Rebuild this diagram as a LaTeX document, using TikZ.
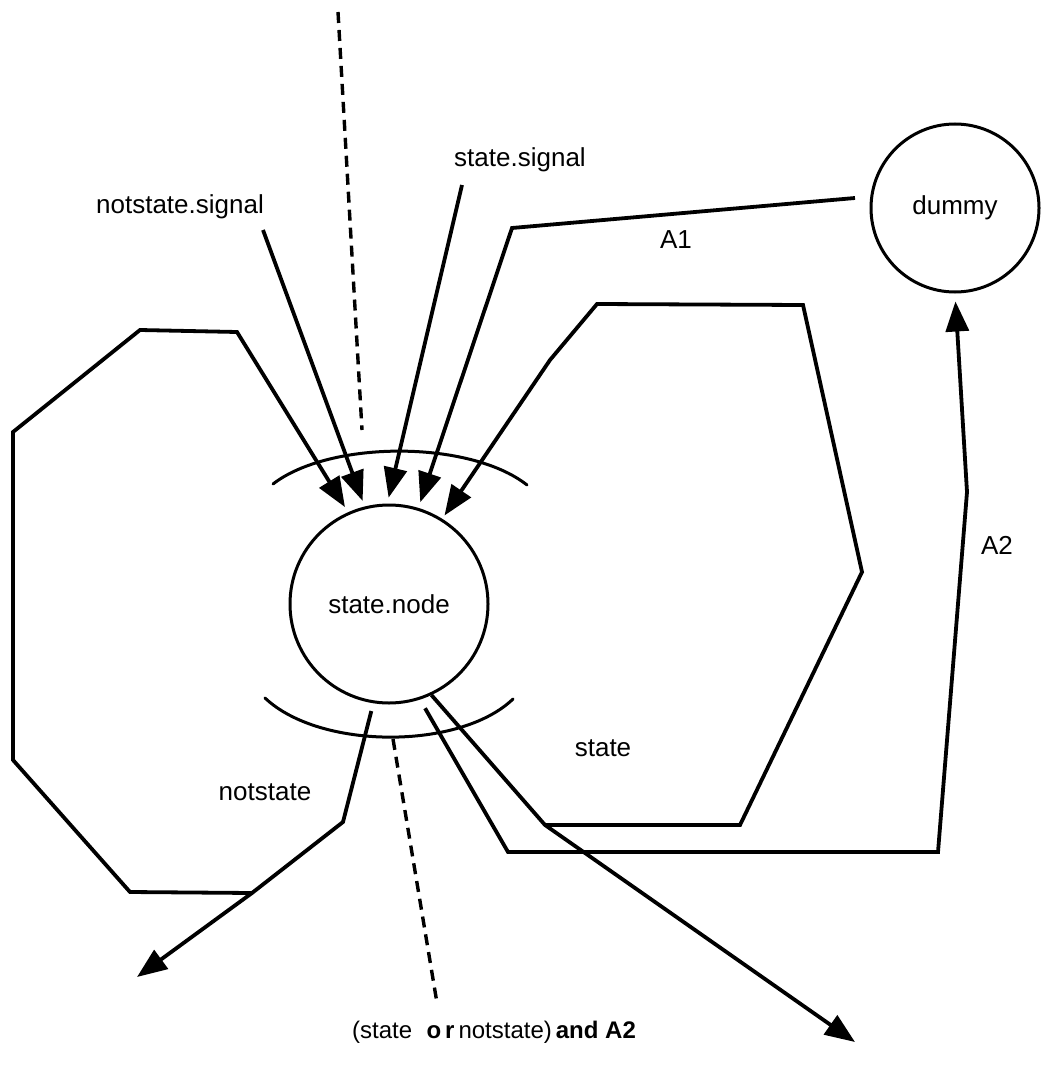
\documentclass[tikz,border=0pt]{standalone}
\usepackage{fontspec}
\setmainfont{Liberation Sans}
\usetikzlibrary{arrows.meta}
\begin{document}
\begin{tikzpicture}[x=1pt,y=-1pt,line width=3.8pt,line join=miter,
  arr/.style={-{Triangle[length=30pt,width=23pt]}},
  lbl/.style={font=\fontsize{26}{30}\selectfont,inner sep=0pt},
  botlbl/.style={font=\fontsize{24}{28}\selectfont,inner sep=0pt},
  circ/.style={circle,draw,line width=3pt,inner sep=0pt,font=\fontsize{26}{30}\selectfont},
  arcline/.style={line width=3pt,line cap=round},
  dashline/.style={line width=3.4pt,dash pattern=on 11pt off 7pt}]
\useasboundingbox (0,0) rectangle (1041,1075);
% nodes
\node[circ,minimum size=198pt] (sn) at (389,604) {state.node};
\node[circ,minimum size=168pt] (dm) at (955,208) {dummy};
\node[lbl] (nss) at (180,207) {notstate.signal};
\node[lbl] (ss) at (520,160) {state.signal};
\node[lbl] (la1) at (676,240) {A1};
\node[lbl] (la2) at (997,545) {A2};
\node[lbl] (lst) at (603,748) {state};
\node[lbl] (lns) at (265,792) {notstate};
\node[botlbl] (lbot) at (494,1032) {(state\hspace{0.6em}\textbf{o\,r}\,notstate)\,\textbf{and A2}};
% coordinates
\coordinate (Lb2) at (252,893);
\coordinate (Lb1) at (130,892);
\coordinate (Ll2) at (13,760);
\coordinate (Ll1) at (13,432);
\coordinate (Lt1) at (140,330);
\coordinate (Lt2) at (237,332);
\coordinate (N1) at (343,822);
\coordinate (NT) at (137,977);
\coordinate (nssE) at (263,230);
\coordinate (ssS) at (462,185);
\coordinate (A1s) at (855,198);
\coordinate (A1k) at (512,228);
\coordinate (Rbl) at (545,825);
\coordinate (Rbr) at (740,825);
\coordinate (Rr) at (862,572);
\coordinate (Rtr) at (803,305);
\coordinate (Rtl) at (597,304);
\coordinate (Rk) at (550,360);
\coordinate (ST) at (855,1042);
\coordinate (A2a) at (508,852);
\coordinate (A2b) at (938,852);
\coordinate (A2c) at (967,492);
\coordinate (D1a) at (338,12);
\coordinate (D1b) at (362,430);
\coordinate (D2a) at (393,739);
\coordinate (D2b) at (437,1003);
% arcs around state.node
\draw[arcline] (273,484) .. controls (330,440) and (470,440) .. (527,485);
\draw[arcline] (265,698) .. controls (320,750) and (460,750) .. (513,699);
% dashed line
\draw[dashline] (D1a) -- (D1b);
\draw[dashline] (D2a) -- (D2b);
% incoming arrows
\draw[arr,shorten >=6pt] (Lb2) -- (Lb1) -- (Ll2) -- (Ll1) -- (Lt1) -- (Lt2) -- (sn.114);
\draw[arr,shorten >=6pt] (nssE) -- (sn.104);
\draw[arr,shorten >=6pt] (ssS) -- (sn.91);
\draw[arr,shorten >=6pt] (A1s) -- (A1k) -- (sn.73);
\draw[arr,shorten >=4pt] (Rbl) -- (Rbr) -- (Rr) -- (Rtr) -- (Rtl) -- (Rk) -- (sn.58);
% outgoing
\draw[arr,shorten <=8pt] (sn.261) -- (N1) -- (Lb2) -- (NT);
\draw[arr] (sn.-65) -- (Rbl) -- (ST);
\draw[arr,shorten <=10pt,shorten >=8pt] (sn.-72) -- (A2a) -- (A2b) -- (A2c) -- (dm.south);
\end{tikzpicture}
\end{document}
